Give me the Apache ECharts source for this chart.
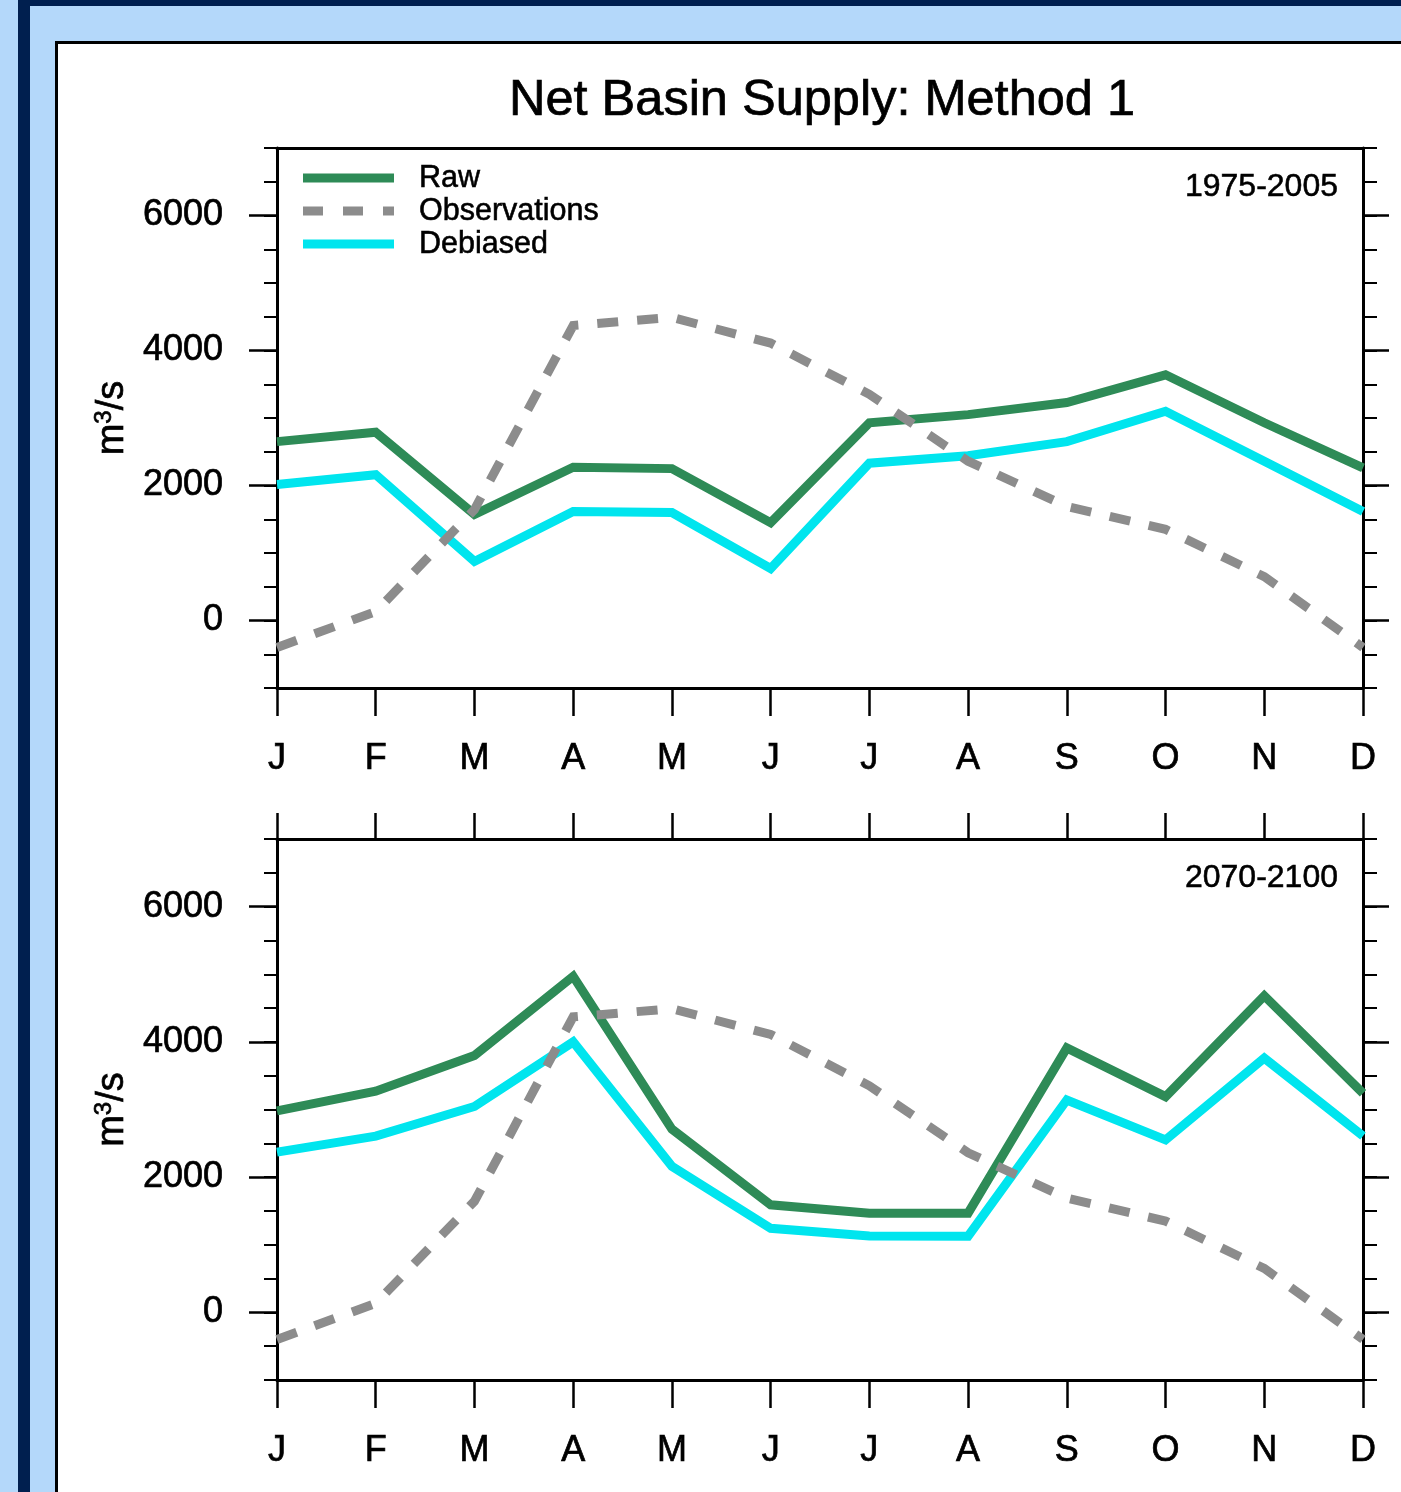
<!DOCTYPE html>
<html>
<head>
<meta charset="utf-8">
<script src="https://cdn.jsdelivr.net/npm/echarts@6/dist/echarts.min.js"></script>
<style>
html,body{margin:0;padding:0;width:1401px;height:1492px;overflow:hidden;background:#b4d8fa;}
#navy{position:absolute;left:18px;top:0;width:3000px;height:3000px;border-top:6px solid #001f4f;border-left:12px solid #001f4f;box-sizing:border-box;background:#b4d8fa;}
#panel{position:absolute;left:55px;top:41px;width:3000px;height:3000px;border:3px solid #000;background:#fff;}
#chart{position:absolute;left:0;top:0;width:1401px;height:1492px;}
</style>
</head>
<body>
<div id="navy"></div>
<div id="panel"></div>
<div id="chart"></div>
<script>
// ---- data ----
const months = ['J','F','M','A','M','J','J','A','S','O','N','D'];
const seriesNames = ['Raw','Observations','Debiased'];
const periods = ['1975-2005','2070-2100'];
const yTickValues = [0, 2000, 4000, 6000];
const observations = [-400, 133, 1644, 4370, 4490, 4110, 3350, 2360, 1690, 1350, 650, -400];
const raw1975 = [2650, 2790, 1570, 2270, 2250, 1450, 2930, 3050, 3230, 3640, 2930, 2260];
const debiased1975 = [2015, 2160, 875, 1615, 1600, 770, 2330, 2440, 2650, 3100, 2360, 1615];
const raw2070 = [2980, 3270, 3800, 4970, 2710, 1590, 1467, 1467, 3911, 3190, 4680, 3240];
const debiased2070 = [2370, 2607, 3045, 4000, 2160, 1244, 1130, 1126, 3141, 2550, 3760, 2607];
const titleText = 'Net Basin Supply: Method 1';

// ---- style ----
const FONT = '"Liberation Sans", Arial, Helvetica, sans-serif';
const GREEN = '#2e8b57', GRAY = '#8c8c8c', CYAN = '#00e5ee';
const colors = {Raw: GREEN, Observations: GRAY, Debiased: CYAN};
const dashes = {Raw: 'solid', Observations: [21, 19], Debiased: 'solid'};
const LW = 9;
const TB = 0.7; // text thickening

const grids = [
  {left: 277, top: 148, width: 1086, height: 540},
  {left: 277, top: 839, width: 1086, height: 541}
];

const xAxis = [], yAxis = [], series = [];
grids.forEach((g, gi) => {
  xAxis.push({
    type: 'category', gridIndex: gi, position: 'bottom', data: months, boundaryGap: false,
    axisLine: {onZero: false, lineStyle: {color: '#000', width: 3}},
    axisTick: {show: true, length: 28, inside: false, lineStyle: {color: '#000', width: 2.5}},
    axisLabel: {margin: 53, fontSize: 36, color: '#000', fontFamily: FONT, interval: 0,
      textBorderColor: '#000', textBorderWidth: TB},
    splitLine: {show: false}
  });
  xAxis.push({
    type: 'category', gridIndex: gi, position: 'top', data: months, boundaryGap: false,
    axisLine: {onZero: false, lineStyle: {color: '#000', width: 3}},
    axisTick: {show: gi === 1, length: 26, inside: false, lineStyle: {color: '#000', width: 2.5}},
    axisLabel: {show: false}, splitLine: {show: false}
  });
  const base = {type: 'value', gridIndex: gi, min: -1000, max: 7000, splitLine: {show: false}};
  yAxis.push(Object.assign({}, base, {
    position: 'left',
    axisLine: {show: true, onZero: false, lineStyle: {color: '#000', width: 3}},
    axisTick: {show: true, length: 28, customValues: yTickValues, lineStyle: {color: '#000', width: 2.5}},
    axisLabel: {customValues: yTickValues, margin: 54, fontSize: 36, color: '#000', fontFamily: FONT,
      padding: [6, 0, 0, 0], textBorderColor: '#000', textBorderWidth: TB,
      formatter: v => String(v)},
    name: 'm{sup|3}/s', nameLocation: 'middle', nameRotate: 90, nameGap: 144,
    nameTextStyle: {fontSize: 38, color: '#000', fontFamily: FONT, textBorderColor: '#000', textBorderWidth: TB,
      rich: {sup: {fontSize: 24, color: '#000', fontFamily: FONT, verticalAlign: 'top', padding: [0, 0, 16, 0],
        textBorderColor: '#000', textBorderWidth: TB}}}
  }));
  yAxis.push(Object.assign({}, base, {
    position: 'left', interval: 500,
    axisLine: {show: false, onZero: false},
    axisTick: {show: true, length: 13, lineStyle: {color: '#000', width: 2}},
    axisLabel: {show: false}
  }));
  yAxis.push(Object.assign({}, base, {
    position: 'right',
    axisLine: {show: true, onZero: false, lineStyle: {color: '#000', width: 3}},
    axisTick: {show: true, length: 26, customValues: yTickValues, lineStyle: {color: '#000', width: 2.5}},
    axisLabel: {show: false}
  }));
  yAxis.push(Object.assign({}, base, {
    position: 'right', interval: 500,
    axisLine: {show: false, onZero: false},
    axisTick: {show: true, length: 14, lineStyle: {color: '#000', width: 2}},
    axisLabel: {show: false}
  }));
});

const panelData = [
  {Raw: raw1975, Debiased: debiased1975, Observations: observations},
  {Raw: raw2070, Debiased: debiased2070, Observations: observations}
];
panelData.forEach((pd, gi) => {
  ['Raw', 'Debiased', 'Observations'].forEach(name => {
    series.push({
      name: name, type: 'line', xAxisIndex: gi * 2, yAxisIndex: gi * 4,
      data: pd[name], symbol: 'none', showSymbol: false, silent: true,
      lineStyle: {color: colors[name], width: LW, type: dashes[name], cap: 'butt', join: 'miter'},
      itemStyle: {color: colors[name]},
      z: name === 'Observations' ? 4 : 3
    });
  });
});

const graphic = [];
graphic.push({type: 'text', x: 822, y: 101, style: {text: titleText, fontSize: 50.5, fontFamily: FONT, fill: '#000',
  stroke: '#000', lineWidth: TB, align: 'center', verticalAlign: 'middle'}});
seriesNames.forEach((n, i) => {
  const y = 178 + i * 33;
  graphic.push({type: 'line', shape: {x1: 303, y1: y, x2: 394, y2: y},
    style: {stroke: colors[n], lineWidth: LW, lineDash: Array.isArray(dashes[n]) ? [20, 20] : null, lineCap: 'butt'}});
  graphic.push({type: 'text', x: 419, y: y + 1, style: {text: n, fontSize: 30.5, fontFamily: FONT, fill: '#000',
    stroke: '#000', lineWidth: TB * 0.8, align: 'left', verticalAlign: 'middle'}});
});
periods.forEach((p, i) => {
  graphic.push({type: 'text', x: 1338, y: i === 0 ? 187 : 878, style: {text: p, fontSize: 32, fontFamily: FONT, fill: '#000',
    stroke: '#000', lineWidth: TB * 0.8, align: 'right', verticalAlign: 'middle'}});
});

const chart = echarts.init(document.getElementById('chart'), null, {renderer: 'canvas', width: 1401, height: 1492});
chart.setOption({
  backgroundColor: 'transparent',
  animation: false,
  grid: grids,
  xAxis: xAxis,
  yAxis: yAxis,
  series: series,
  graphic: graphic
});
</script>
</body>
</html>
